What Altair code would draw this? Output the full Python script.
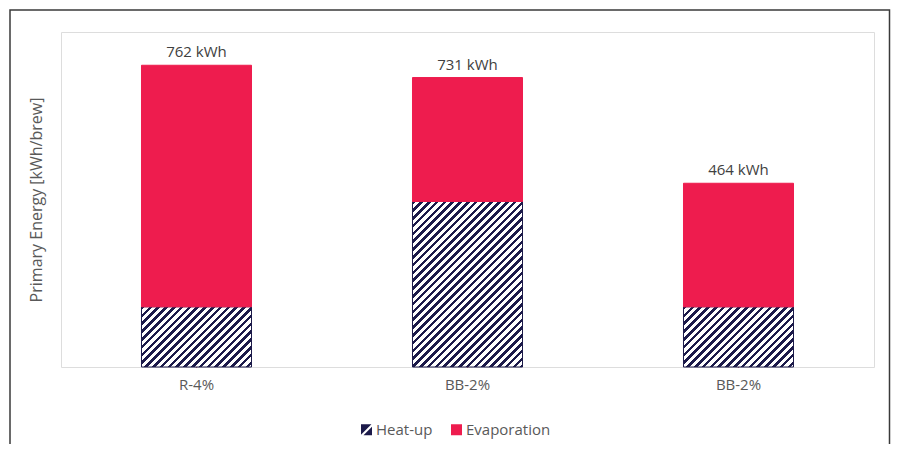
import json
import altair as alt
import pandas as pd

# ---- data ----
slots = [0, 1, 2]
bar_labels = ["R-4%", "BB-2%", "BB-2%"]
heat_up = [152, 418, 152]
evaporation = [610, 313, 312]
series_names = ["Heat-up", "Evaporation"]

# ---- styling ----
NAVY = "#1c1a4a"
CRIMSON = "#ee1c4e"
GRAY_TXT = "#595959"
DARK_TXT = "#404040"
FONT = "Open Sans"

PLOT_W, PLOT_H = 813, 335
Y_MAX = 846
PAD_L, PAD_T, PAD_R, PAD_B = 53, 24, 17, 77

rows = []
for s, lab, h, e in zip(slots, bar_labels, heat_up, evaporation):
    rows.append({"slot": s, "label": lab, "series": "Heat-up", "ord": 0, "value": h})
    rows.append({"slot": s, "label": lab, "series": "Evaporation", "ord": 1, "value": e})
df = pd.DataFrame(rows)

padding_inner = 0.594
step = PLOT_W / len(slots)
bar_w = step * (1 - padding_inner)


def hatch(w, h, period=7.8, frac=0.45):
    """Diagonal '/' hatch as a linear gradient in bounding-box units."""
    tot = w + h
    s = tot / (w * w + h * h)
    stops = []
    k = 0
    while k * period < tot:
        a = k * period / tot
        m = min((k * period + frac * period) / tot, 1.0)
        b = min((k + 1) * period / tot, 1.0)
        stops += [{"offset": a, "color": NAVY}, {"offset": m, "color": NAVY},
                  {"offset": m, "color": "#ffffff"}, {"offset": b, "color": "#ffffff"}]
        k += 1
    return {"gradient": "linear", "x1": 0, "y1": 0, "x2": s * w, "y2": s * h, "stops": stops}


px_per_unit = PLOT_H / Y_MAX
conds = []
for s, h in zip(slots, heat_up):
    conds.append({"test": f"datum.series === 'Heat-up' && datum.slot === {s}",
                  "value": hatch(bar_w, h * px_per_unit)})

x_enc = alt.X("slot:O",
              scale=alt.Scale(paddingInner=padding_inner, paddingOuter=padding_inner / 2),
              axis=alt.Axis(title=None, labelAngle=0, ticks=False, domain=False,
                            labelExpr=f"{json.dumps(bar_labels)}[datum.value]",
                            labelFontSize=15, labelColor=GRAY_TXT, labelPadding=10,
                            labelFont=FONT))
y_scale = alt.Scale(domain=[0, Y_MAX], nice=False)
y_axis = alt.Axis(title="Primary Energy [kWh/brew]", labels=False, ticks=False,
                  domain=False, grid=False, titleFontSize=16, titleColor=GRAY_TXT,
                  titleFontWeight="normal", titleFont=FONT, titlePadding=17)

# legend carrier (hidden under the bars)
hatch_path = "M-1,-1L0.9,-1L-1,0.9ZM1,1L1,-0.55L-0.55,1Z"
legend_pts = alt.Chart(df).mark_point(filled=True, size=1, opacity=1).encode(
    x=x_enc,
    y=alt.Y("zero:Q", scale=y_scale, axis=y_axis),
    color=alt.Color("series:N", scale=alt.Scale(domain=series_names, range=[NAVY, CRIMSON]),
                    legend=alt.Legend(title=None, orient="none", direction="horizontal",
                                      legendX=298, legendY=390, symbolSize=121,
                                      labelFontSize=15, labelColor=GRAY_TXT, labelFont=FONT,
                                      labelOffset=2, columnPadding=16, padding=0,
                                      symbolStrokeWidth=0)),
    shape=alt.Shape("series:N", scale=alt.Scale(domain=series_names, range=[hatch_path, "square"])),
).transform_calculate(zero="0")

bars = alt.Chart(df).mark_bar(strokeWidth=1).encode(
    x=x_enc,
    y=alt.Y("value:Q", stack="zero", scale=y_scale, axis=y_axis),
    order=alt.Order("ord:Q"),
    fill={"condition": conds, "value": CRIMSON},
    stroke={"condition": {"test": "datum.series === 'Heat-up'", "value": NAVY}, "value": CRIMSON},
)

totals = alt.Chart(df).transform_aggregate(
    total="sum(value)", groupby=["slot"]
).transform_calculate(
    txt="format(datum.total, 'd') + ' kWh'"
).mark_text(baseline="bottom", dy=-5, fontSize=15, color=DARK_TXT, font=FONT).encode(
    x=x_enc,
    y=alt.Y("total:Q", scale=y_scale, axis=y_axis),
    text="txt:N",
)

frame = alt.Chart(pd.DataFrame({"a": [0]})).mark_rect(
    fill="transparent", stroke="#3a3a3a", strokeWidth=1.5
).encode(
    x=alt.value(-51), x2=alt.value(PLOT_W + 15.5),
    y=alt.value(-22), y2=alt.value(PLOT_H + 200),
)

chart = alt.layer(legend_pts, bars, totals, frame).properties(
    width=PLOT_W, height=PLOT_H,
    autosize=alt.AutoSizeParams(type="none"),
    padding={"left": PAD_L, "top": PAD_T, "right": PAD_R, "bottom": PAD_B},
    background="white",
).configure_view(stroke="#c0c0c0", strokeWidth=1).configure(font=FONT)

chart.save("out.html", embed_options={"renderer": "svg", "actions": False})
